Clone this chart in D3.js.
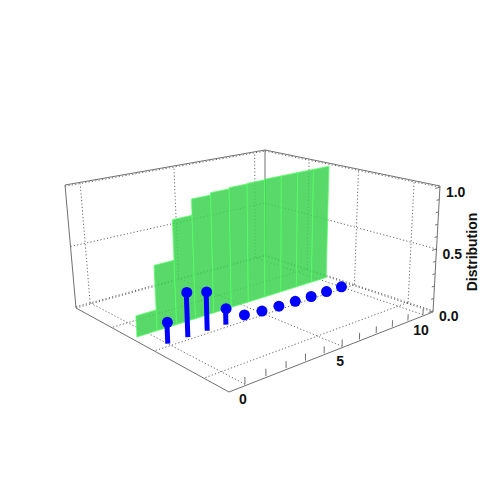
<!DOCTYPE html>
<html><head><meta charset="utf-8">
<script src="https://cdn.jsdelivr.net/npm/d3@7"></script>
<style>html,body{margin:0;background:#fff}svg{display:block}text{font-family:"Liberation Sans",sans-serif;font-size:14px;font-weight:bold;fill:#111}</style>
</head><body><svg id="c" width="500" height="500"></svg>
<script>
const xTicks=[0,5,10];
const xMinor=[0,1,2,3,4,5,6,7,8,9,10];
const yTicks=[0,1,2];
const zTicks=[0,0.5,1];
const zMinor=[0,0.1,0.2,0.3,0.4,0.5,0.6,0.7,0.8,0.9,1];
const categories=[0,1,2,3,4,5,6,7,8,9,10];
const pmf=[0.16,0.34,0.30,0.125,0.03,0.015,0.01,0.005,0.002,0.001,0];
const cdf=[0.16,0.505,0.825,0.955,0.975,0.985,0.99,0.995,0.995,0.995,0.995];
const stemY=1.07, barY=1.51, barShift=-0.05;

const sx=d3.scaleLinear().domain([-0.737,10.69]).range([0,1]);
const sy=d3.scaleLinear().domain([-0.425,2.999]).range([0,1]);
const sz=d3.scaleLinear().domain([-0.01,1.01]).range([0,1]);

function homography(p0,p1,p2,p3){
  const dx1=p1[0]-p2[0],dx2=p3[0]-p2[0],ax=p0[0]-p1[0]+p2[0]-p3[0];
  const dy1=p1[1]-p2[1],dy2=p3[1]-p2[1],ay=p0[1]-p1[1]+p2[1]-p3[1];
  const den=dx1*dy2-dx2*dy1;
  const g=(ax*dy2-dx2*ay)/den,h=(dx1*ay-ax*dy1)/den;
  const a=p1[0]-p0[0]+g*p1[0],b=p3[0]-p0[0]+h*p3[0];
  const d=p1[1]-p0[1]+g*p1[1],e=p3[1]-p0[1]+h*p3[1];
  return (s,t)=>{const w=g*s+h*t+1;return [(a*s+b*t+p0[0])/w,(d*s+e*t+p0[1])/w];};
}
const floor=homography([229,392],[433,312],[265,256],[76,308]);
const ceil=homography([226,239],[440,186],[265,150],[65,185]);
function proj(x,y,z){
  const s=sx(x),t=sy(y),k=sz(z);
  const a=floor(s,t),b=ceil(s,t);
  return [a[0]+(b[0]-a[0])*k,a[1]+(b[1]-a[1])*k];
}
const X0=sx.domain()[0],X1=sx.domain()[1],Y0=sy.domain()[0],Y1=sy.domain()[1],Z0=sz.domain()[0],Z1=sz.domain()[1];
const svg=d3.select("#c");
const line=d3.line();
function seg(a,b,cls){
  svg.append("path").attr("d",line([proj(...a),proj(...b)])).attr("fill","none")
    .attr("stroke",cls==="dot"?"#666":"#707070")
    .attr("stroke-width",1)
    .attr("stroke-dasharray",cls==="dot"?"1.2 2.2":null);
}
// grids
xTicks.forEach(x=>{seg([x,Y0,0],[x,Y1,0],"dot");seg([x,Y1,0],[x,Y1,1],"dot");});
yTicks.forEach(y=>{seg([X0,y,0],[X1,y,0],"dot");seg([X1,y,0],[X1,y,1],"dot");});
zTicks.forEach(z=>{seg([X0,Y1,z],[X1,Y1,z],"dot");seg([X1,Y1,z],[X1,Y0,z],"dot");});
// box
seg([X0,Y1,Z0],[X1,Y1,Z0],"dot");seg([X1,Y1,Z0],[X1,Y0,Z0],"dot");
[[[X0,Y0,Z0],[X1,Y0,Z0]],[[X0,Y0,Z0],[X0,Y1,Z0]],
 [[X0,Y1,Z0],[X0,Y1,Z1]],[[X1,Y1,Z0],[X1,Y1,Z1]],[[X1,Y0,Z0],[X1,Y0,Z1]],
 [[X0,Y1,Z1],[X1,Y1,Z1]],[[X1,Y1,Z1],[X1,Y0,Z1]]].forEach(e=>seg(e[0],e[1]));
// ticks
xMinor.forEach(x=>seg([x,Y0,0],[x,Y0,0.05]));
zMinor.forEach(z=>{const major=zTicks.includes(z);seg([X1,Y0,z],[X1-(major?0.3:0.18),Y0,z]);});
// bars
categories.forEach((c,i)=>{
  const a=c-0.5+barShift,b=c+0.5+barShift,z=cdf[i];
  svg.append("path").attr("d",line([proj(a,barY,0),proj(b,barY,0),proj(b,barY,z),proj(a,barY,z)])+"Z")
    .attr("fill","rgb(60,210,80)").attr("fill-opacity",0.85)
    .attr("stroke","#55ff66").attr("stroke-width",1).attr("stroke-opacity",.8);
});
// stems
categories.forEach((c,i)=>{
  const p=proj(c,stemY,pmf[i]),q=proj(c,stemY,0);
  svg.append("path").attr("d",line([q,p])).attr("stroke","#0000ff").attr("stroke-width",5).attr("fill","none");
  svg.append("circle").attr("cx",p[0]+0.5).attr("cy",p[1]).attr("r",5.5).attr("fill","#0000ff");
});
// labels
xTicks.forEach(x=>{
  const p=proj(x,Y0,0);
  svg.append("text").attr("x",p[0]-2).attr("y",p[1]+20).attr("text-anchor","middle").text(x);
});
zTicks.forEach(z=>{
  const p=proj(X1,Y0,z);
  svg.append("text").attr("x",p[0]+6).attr("y",p[1]+10).text(d3.format(".1f")(z));
});
svg.append("text").attr("transform","translate(477,252) rotate(-90)").attr("text-anchor","middle").text("Distribution");
</script></body></html>
